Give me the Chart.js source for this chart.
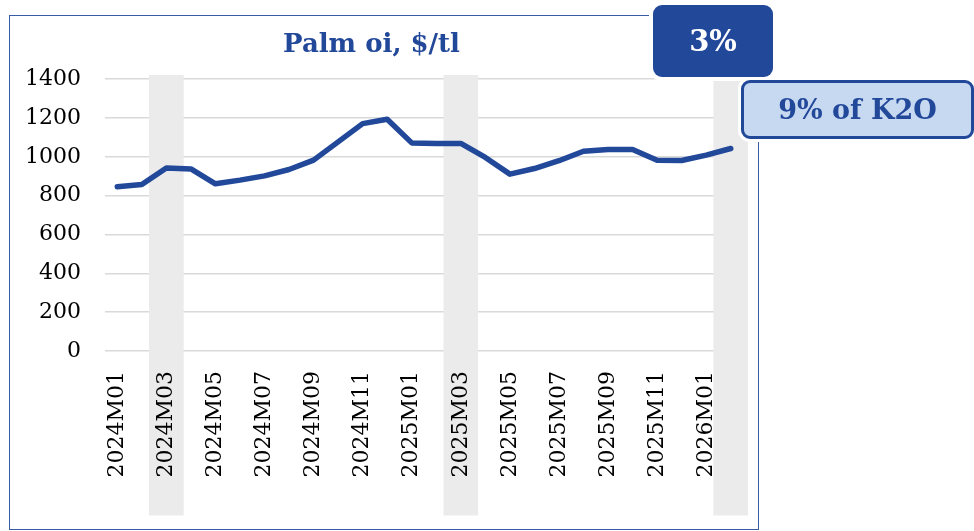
<!DOCTYPE html>
<html>
<head>
<meta charset="utf-8">
<script src="https://cdn.jsdelivr.net/npm/chart.js@4"></script>
<style>
  body { margin: 0; background: #fff; }
  #wrap { position: relative; width: 974px; height: 531px; overflow: hidden; }
  #frame { position: absolute; left: 9px; top: 15px; width: 748px; height: 513px; border: 1.5px solid #3A5BA6; }
  canvas { position: absolute; left: 0; top: 0; }
  .tag { position: absolute; font-family: "DejaVu Serif", serif; font-weight: bold; font-size: 27px;
         display: flex; align-items: center; justify-content: center; border-radius: 9px; box-sizing: border-box; }
  #pct { left: 653px; top: 5px; width: 120px; height: 72px; background: #22489A; color: #fff;
         font-size: 29px; font-weight: 600; box-shadow: 0 0 0 4px #fff; }
  #k2o { left: 741px; top: 80px; width: 233px; height: 59px; background: #C7D8F1; color: #22489A;
         border: 3px solid #22489A; box-shadow: 0 0 0 3px #fff; }
</style>
</head>
<body>
<div id="wrap">
  <div id="frame"></div>
  <canvas id="myChart" width="974" height="531"></canvas>
  <div class="tag" id="pct">3%</div>
  <div class="tag" id="k2o">9% of K2O</div>
</div>
<script>
// monthly palm oil price, $/t
let months = ['2024M01','2024M02','2024M03','2024M04','2024M05','2024M06','2024M07','2024M08','2024M09','2024M10','2024M11','2024M12',
              '2025M01','2025M02','2025M03','2025M04','2025M05','2025M06','2025M07','2025M08','2025M09','2025M10','2025M11','2025M12',
              '2026M01','2026M02'];
let palmOil = [846, 858, 943, 938, 861, 880, 902, 935, 983, 1077, 1171, 1194,
               1072, 1069, 1069, 997, 911, 940, 980, 1029, 1038, 1038, 983, 981,
               1009, 1043];
let shadedMonths = ['2024M03', '2025M03', '2026M02'];
let shadeRange = [-845, 1420];
let yTicks = [0, 200, 400, 600, 800, 1000, 1200, 1400];

let shade = months.map((m) => (shadedMonths.includes(m) ? shadeRange : null));

let font = "'DejaVu Serif', serif";

new Chart("myChart", {
  data: {
    labels: months,
    datasets: [
      {
        type: "line",
        data: palmOil,
        borderColor: "#22489A",
        borderWidth: 5.5,
        pointRadius: 0,
        borderCapStyle: "round",
        borderJoinStyle: "round",
        tension: 0,
      },
      {
        type: "bar",
        data: shade,
        backgroundColor: "#EBEBEB",
        barThickness: 34,
        clip: false,
      },
    ],
  },
  options: {
    responsive: false,
    animation: false,
    layout: { padding: { top: 16, right: 231, bottom: 0, left: 0 } },
    plugins: {
      legend: { display: false },
      tooltip: { enabled: false },
      title: {
        display: true,
        text: "Palm oi, $/tl",
        color: "#22489A",
        font: { family: font, size: 26, weight: "bold" },
        padding: { top: 14, bottom: 18 },
      },
    },
    scales: {
      x: {
        grid: { display: false },
        border: { display: false },
        ticks: {
          z: 1,
          autoSkip: false,
          minRotation: 90,
          maxRotation: 90,
          padding: 12,
          color: "#000",
          font: { family: font, size: 22 },
          callback: function (v, i) { return i % 2 === 0 ? months[i] : ""; },
        },
        afterFit: function (s) { s.height = 180; },
      },
      y: {
        min: 0,
        max: 1400,
        afterBuildTicks: function (s) { s.ticks = yTicks.map((v) => ({ value: v })); },
        grid: { color: "#D9D9D9", lineWidth: 1.5, drawTicks: false },
        border: { display: false },
        ticks: {
          padding: 24,
          color: "#000",
          font: { family: font, size: 22 },
          callback: function (v) { return String(v); },
        },
        afterFit: function (s) { s.width = 105; },
      },
    },
  },
});
</script>
</body>
</html>
